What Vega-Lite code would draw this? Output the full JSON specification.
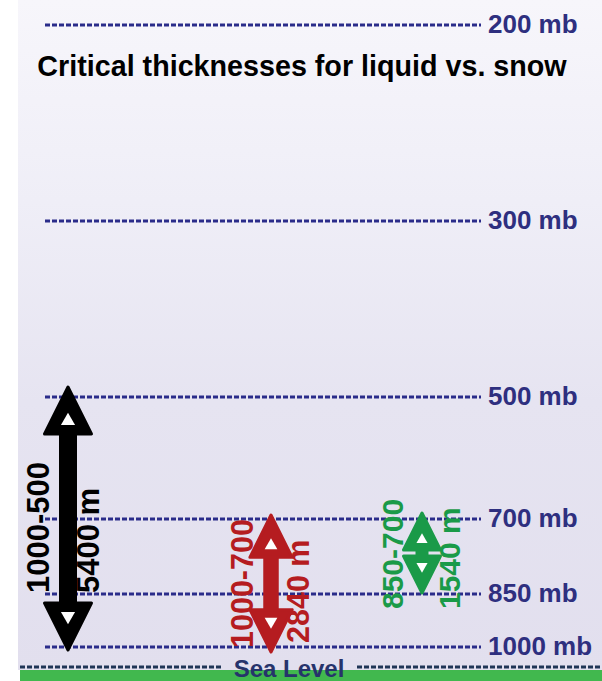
{
  "$schema": "https://vega.github.io/schema/vega-lite/v6.json",
  "width": 602,
  "height": 681,
  "autosize": "none",
  "padding": 0,
  "background": "white",
  "config": {"view": {"stroke": null}, "text": {"font": "Liberation Sans"}},
  "datasets": {
    "levels": [
      {"level": "200 mb", "h": 656},
      {"level": "300 mb", "h": 460},
      {"level": "500 mb", "h": 284},
      {"level": "700 mb", "h": 162},
      {"level": "850 mb", "h": 87},
      {"level": "1000 mb", "h": 34}
    ],
    "arrows": [
      {"name": "1000-500", "x": 68, "tip_top": 294, "tip_bottom": 31, "shaft_top": 256, "shaft_bottom": 71},
      {"name": "1000-700", "x": 271, "tip_top": 166, "tip_bottom": 29, "shaft_top": 136, "shaft_bottom": 61},
      {"name": "850-700", "x": 422, "tip_top": 168, "tip_bottom": 88, "shaft_top": 146, "shaft_bottom": 111}
    ],
    "arrowLabels": [
      {"arrow": "1000-500", "text": "1000-500", "x": 40, "h": 88},
      {"arrow": "1000-500", "text": "5400 m", "x": 90, "h": 88},
      {"arrow": "1000-700", "text": "1000-700", "x": 244, "h": 33},
      {"arrow": "1000-700", "text": "2840 m", "x": 300, "h": 38},
      {"arrow": "850-700", "text": "850-700", "x": 394, "h": 72},
      {"arrow": "850-700", "text": "1540 m", "x": 451, "h": 72}
    ],
    "seaLevel": [
      {"x0": 20, "x1": 222},
      {"x0": 357, "x1": 600}
    ]
  },
  "resolve": {"scale": {"size": "independent", "color": "independent", "stroke": "independent"}},
  "layer": [
    {
      "data": {"values": [{"x0": 18, "x1": 602, "y0": 11, "y1": 681}]},
      "mark": {"type": "rect", "fill": {"gradient": "linear", "x1": 0, "y1": 0, "x2": 0, "y2": 1, "stops": [
        {"offset": 0, "color": "#f7f6fb"},
        {"offset": 0.3, "color": "#efeef7"},
        {"offset": 0.6, "color": "#e6e4f1"},
        {"offset": 1, "color": "#e2dfee"}
      ]}},
      "encoding": {
        "x": {"field": "x0", "type": "quantitative", "scale": {"domain": [0, 602], "nice": false, "zero": false}, "axis": null},
        "x2": {"field": "x1"},
        "y": {"field": "y0", "type": "quantitative", "scale": {"domain": [0, 681], "nice": false, "zero": false}, "axis": null},
        "y2": {"field": "y1"}
      }
    },
    {
      "data": {"values": [{"x0": 20, "x1": 602, "y0": 0, "y1": 11}]},
      "mark": {"type": "rect", "fill": "#41b84e"},
      "encoding": {
        "x": {"field": "x0", "type": "quantitative", "axis": null},
        "x2": {"field": "x1"},
        "y": {"field": "y0", "type": "quantitative", "axis": null},
        "y2": {"field": "y1"}
      }
    },
    {
      "data": {"name": "levels"},
      "mark": {"type": "rule", "color": "#2a2c8a", "strokeWidth": 3, "strokeDash": [5, 2]},
      "encoding": {
        "x": {"datum": 45, "type": "quantitative", "axis": null},
        "x2": {"datum": 481},
        "y": {"field": "h", "type": "quantitative", "axis": null}
      }
    },
    {
      "data": {"name": "levels"},
      "mark": {"type": "text", "align": "left", "baseline": "middle", "fontSize": 26, "fontWeight": "bold", "color": "#2e2f7f"},
      "encoding": {
        "x": {"datum": 488, "type": "quantitative", "axis": null},
        "y": {"field": "h", "type": "quantitative", "axis": null},
        "text": {"field": "level"}
      }
    },
    {
      "data": {"values": [{"title": "Critical thicknesses for liquid vs. snow", "x": 302, "h": 605}]},
      "mark": {"type": "text", "align": "center", "baseline": "alphabetic", "fontSize": 28.7, "fontWeight": "bold", "color": "#000000"},
      "encoding": {
        "x": {"field": "x", "type": "quantitative", "axis": null},
        "y": {"field": "h", "type": "quantitative", "axis": null},
        "text": {"field": "title"}
      }
    },
    {
      "data": {"name": "seaLevel"},
      "mark": {"type": "rule", "color": "#1f3556", "strokeWidth": 3, "strokeDash": [5, 2]},
      "encoding": {
        "x": {"field": "x0", "type": "quantitative", "axis": null},
        "x2": {"field": "x1"},
        "y": {"datum": 14, "type": "quantitative", "axis": null}
      }
    },
    {
      "data": {"values": [{"label": "Sea Level", "x": 289, "h": 4}]},
      "mark": {"type": "text", "align": "center", "baseline": "alphabetic", "fontSize": 24, "fontWeight": "bold", "color": "#26336b"},
      "encoding": {
        "x": {"field": "x", "type": "quantitative", "axis": null},
        "y": {"field": "h", "type": "quantitative", "axis": null},
        "text": {"field": "label"}
      }
    },
    {
      "data": {"name": "arrows"},
      "mark": {"type": "rule", "strokeCap": "butt"},
      "encoding": {
        "x": {"field": "x", "type": "quantitative", "axis": null},
        "y": {"field": "shaft_top", "type": "quantitative", "axis": null},
        "y2": {"field": "shaft_bottom"},
        "size": {"field": "name", "type": "nominal", "scale": {"domain": ["1000-500", "1000-700", "850-700"], "range": [18, 13, 10]}, "legend": null},
        "color": {"field": "name", "type": "nominal", "scale": {"domain": ["1000-500", "1000-700", "850-700"], "range": ["#000000", "#b51c20", "#1a9a48"]}, "legend": null}
      }
    },
    {
      "data": {"name": "arrows"},
      "mark": {"type": "point", "shape": "M0,0L1,2L-1,2Z", "filled": true, "opacity": 1, "strokeWidth": 3, "strokeJoin": "round"},
      "encoding": {
        "x": {"field": "x", "type": "quantitative", "axis": null},
        "y": {"field": "tip_top", "type": "quantitative", "axis": null},
        "size": {"field": "name", "type": "nominal", "scale": {"domain": ["1000-500", "1000-700", "850-700"], "range": [2209, 1369, 729]}, "legend": null},
        "color": {"field": "name", "type": "nominal", "scale": {"domain": ["1000-500", "1000-700", "850-700"], "range": ["#000000", "#b51c20", "#1a9a48"]}, "legend": null},
        "stroke": {"field": "name", "type": "nominal", "scale": {"domain": ["1000-500", "1000-700", "850-700"], "range": ["#000000", "#b51c20", "#1a9a48"]}, "legend": null}
      }
    },
    {
      "data": {"name": "arrows"},
      "mark": {"type": "point", "shape": "M0,0L1,-2L-1,-2Z", "filled": true, "opacity": 1, "strokeWidth": 3, "strokeJoin": "round"},
      "encoding": {
        "x": {"field": "x", "type": "quantitative", "axis": null},
        "y": {"field": "tip_bottom", "type": "quantitative", "axis": null},
        "size": {"field": "name", "type": "nominal", "scale": {"domain": ["1000-500", "1000-700", "850-700"], "range": [2209, 1369, 729]}, "legend": null},
        "color": {"field": "name", "type": "nominal", "scale": {"domain": ["1000-500", "1000-700", "850-700"], "range": ["#000000", "#b51c20", "#1a9a48"]}, "legend": null},
        "stroke": {"field": "name", "type": "nominal", "scale": {"domain": ["1000-500", "1000-700", "850-700"], "range": ["#000000", "#b51c20", "#1a9a48"]}, "legend": null}
      }
    },
    {
      "data": {"name": "arrows"},
      "mark": {"type": "point", "shape": "M0,1.1L0.3,1.62L-0.3,1.62Z", "filled": true, "opacity": 1, "color": "#ffffff", "strokeWidth": 0},
      "encoding": {
        "x": {"field": "x", "type": "quantitative", "axis": null},
        "y": {"field": "tip_top", "type": "quantitative", "axis": null},
        "size": {"field": "name", "type": "nominal", "scale": {"domain": ["1000-500", "1000-700", "850-700"], "range": [2209, 1369, 729]}, "legend": null}
      }
    },
    {
      "data": {"name": "arrows"},
      "mark": {"type": "point", "shape": "M0,-1.1L0.3,-1.62L-0.3,-1.62Z", "filled": true, "opacity": 1, "color": "#ffffff", "strokeWidth": 0},
      "encoding": {
        "x": {"field": "x", "type": "quantitative", "axis": null},
        "y": {"field": "tip_bottom", "type": "quantitative", "axis": null},
        "size": {"field": "name", "type": "nominal", "scale": {"domain": ["1000-500", "1000-700", "850-700"], "range": [2209, 1369, 729]}, "legend": null}
      }
    },
    {
      "data": {"name": "arrowLabels"},
      "mark": {"type": "text", "angle": 270, "align": "left", "baseline": "middle", "fontWeight": "bold"},
      "encoding": {
        "x": {"field": "x", "type": "quantitative", "axis": null},
        "y": {"field": "h", "type": "quantitative", "axis": null},
        "text": {"field": "text"},
        "size": {"field": "arrow", "type": "nominal", "scale": {"domain": ["1000-500", "1000-700", "850-700"], "range": [31, 30, 29]}, "legend": null},
        "color": {"field": "arrow", "type": "nominal", "scale": {"domain": ["1000-500", "1000-700", "850-700"], "range": ["#000000", "#b51c20", "#1a9a48"]}, "legend": null}
      }
    }
  ]
}
